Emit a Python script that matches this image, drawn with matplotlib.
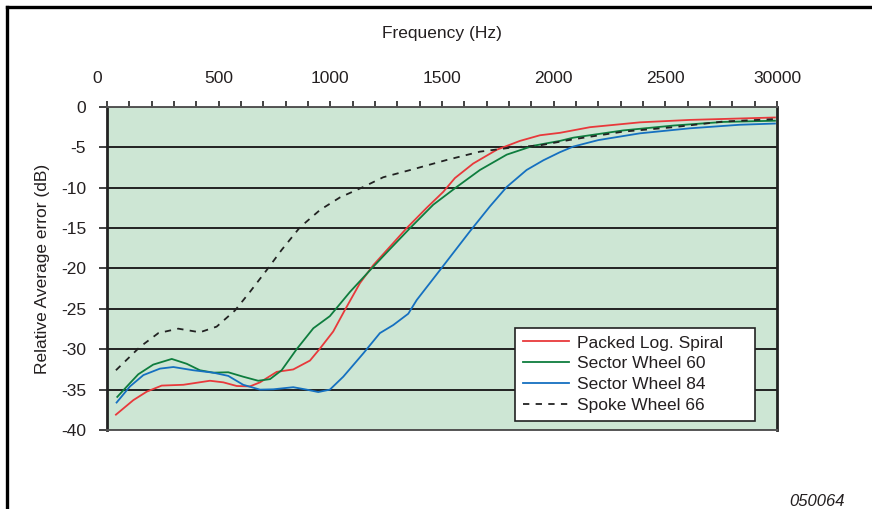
import numpy as np
import matplotlib
matplotlib.use("Agg")
import matplotlib.pyplot as plt
import matplotlib.transforms as mtransforms
from matplotlib.lines import Line2D

plt.rcParams['font.family'] = ['Liberation Sans', 'DejaVu Sans']
plt.rcParams['axes.unicode_minus'] = False

# Relative average error (dB) against frequency (Hz)
freq_spiral = [40, 118, 178, 245, 342, 461, 521, 581, 640, 685, 760, 834, 909, 954, 1013,
               1066, 1133, 1192, 1267, 1342, 1431, 1506, 1558, 1640, 1745, 1849, 1939,
               2028, 2163, 2387, 2610, 2991]
err_spiral = [-38.1, -36.3, -35.25, -34.5, -34.4, -33.9, -34.1, -34.55, -34.6, -34.1, -32.8,
              -32.5, -31.4, -29.9, -27.8, -25.1, -21.8, -19.6, -17.3, -15.0, -12.5, -10.5,
              -8.8, -7.0, -5.3, -4.2, -3.5, -3.2, -2.5, -1.9, -1.6, -1.3]

freq_sector60 = [46, 96, 140, 207, 290, 357, 416, 476, 543, 610, 677, 730, 782, 849, 924,
                 998, 1088, 1185, 1267, 1357, 1461, 1566, 1670, 1790, 1909, 2028, 2088,
                 2312, 2536, 2760, 2991]
err_sector60 = [-35.9, -34.4, -33.1, -31.9, -31.2, -31.8, -32.6, -32.9, -32.85, -33.4, -33.9,
                -33.7, -32.6, -30.0, -27.4, -25.9, -22.9, -20.0, -17.6, -15.0, -12.1, -9.9,
                -7.8, -5.9, -4.8, -4.2, -3.8, -2.9, -2.3, -1.85, -1.7]

freq_sector84 = [43, 103, 163, 237, 297, 386, 476, 543, 610, 685, 745, 834, 894, 946, 998,
                 1058, 1148, 1222, 1282, 1349, 1387, 1491, 1625, 1715, 1790, 1879, 1954,
                 2028, 2088, 2200, 2387, 2610, 2834, 2991]
err_sector84 = [-36.6, -34.6, -33.2, -32.4, -32.2, -32.6, -32.9, -33.3, -34.4, -35.0, -34.96,
                -34.7, -35.0, -35.3, -35.0, -33.4, -30.5, -28.0, -27.0, -25.6, -23.9, -20.2,
                -15.4, -12.3, -9.9, -7.8, -6.6, -5.6, -4.9, -4.1, -3.26, -2.64, -2.2, -2.05]

freq_spoke66 = [40, 148, 230, 319, 416, 491, 573, 640, 715, 782, 864, 954, 1043, 1148, 1237,
                1372, 1521, 1670, 1819, 1939, 2088, 2312, 2536, 2760, 2991]
err_spoke66 = [-32.6, -29.7, -28.0, -27.45, -27.9, -27.2, -25.2, -22.9, -20.2, -17.7, -14.9,
               -12.75, -11.2, -9.9, -8.7, -7.7, -6.56, -5.53, -5.0, -4.75, -4.0, -3.05, -2.5,
               -1.8, -1.5]

x_ticks = [0, 500, 1000, 1500, 2000, 2500, 3000]
x_tick_labels = ['0', '500', '1000', '1500', '2000', '2500', '30000']
y_ticks = [0, -5, -10, -15, -20, -25, -30, -35, -40]

text_color = '#231f20'
fs = 12.5

fig = plt.figure(figsize=(8.72, 5.09), dpi=100)
ax = fig.add_axes([0.1227, 0.1552, 0.7683, 0.6346])
ax.set_facecolor('#cde6d4')

ax.plot(freq_spiral, err_spiral, color='#e8393b', lw=1.3, label='Packed Log. Spiral')
ax.plot(freq_sector60, err_sector60, color='#0e7d3e', lw=1.3, label='Sector Wheel 60')
ax.plot(freq_sector84, err_sector84, color='#1570c0', lw=1.3, label='Sector Wheel 84')
ax.plot(freq_spoke66, err_spoke66, color='#222222', lw=1.3, ls=(0, (3.5, 3.5)),
        label='Spoke Wheel 66')

ax.set_xlim(0, 3000)
ax.set_ylim(-40, 0)

# frequency axis drawn along the top
ax.xaxis.tick_top()
ax.xaxis.set_label_position('top')
ax.set_xticks(x_ticks)
ax.set_xticklabels(x_tick_labels)
ax.set_xticks(np.arange(0, 3001, 100), minor=True)
ax.tick_params(axis='x', which='both', direction='out', length=4, width=1.2,
               color='#222222', pad=11, labelsize=fs, labelcolor=text_color)
ax.set_xlabel('Frequency (Hz)', fontsize=fs, color=text_color, labelpad=24)

# the "0" label sits a little left of its tick
first = ax.get_xticklabels()[0]
first.set_transform(first.get_transform() +
                    mtransforms.ScaledTranslation(-10 / 100, 0, fig.dpi_scale_trans))

ax.set_yticks(y_ticks)
ax.tick_params(axis='y', direction='out', length=6, width=1.2, color='#222222',
               pad=9, labelsize=fs, labelcolor=text_color)
ax.set_ylabel('Relative Average error (dB)', fontsize=fs, color=text_color, labelpad=8)

ax.grid(axis='y', color='#222222', lw=1.4)
ax.set_axisbelow(True)

for side in ['left', 'right']:
    ax.spines[side].set_linewidth(2.0)
    ax.spines[side].set_color('#222222')
for side in ['top', 'bottom']:
    ax.spines[side].set_linewidth(1.4)
    ax.spines[side].set_color('#555555')

# legend box stretched to a fixed width, entries left aligned
leg = ax.legend(loc='lower left', bbox_to_anchor=(0.609, 0.028, 0.358, 0.28),
                mode='expand', fontsize=fs, frameon=True, fancybox=False,
                framealpha=1, edgecolor='#222222', handlelength=2.65,
                handletextpad=0.45, labelspacing=0.33, borderpad=0.45,
                borderaxespad=0)
leg.get_frame().set_linewidth(1.2)
for t in leg.get_texts():
    t.set_color(text_color)

fig.text(0.969, 0.014, '050064', fontsize=fs - 0.5, style='italic', color=text_color,
         ha='right', va='center')

# page frame along the top and left edges
fig.add_artist(Line2D([0.0075, 1.0], [0.986, 0.986], color='black', lw=2.4,
                      transform=fig.transFigure))
fig.add_artist(Line2D([0.0075, 0.0075], [0.0, 0.986], color='black', lw=2.4,
                      transform=fig.transFigure))

fig.savefig('out.png', dpi=100)
